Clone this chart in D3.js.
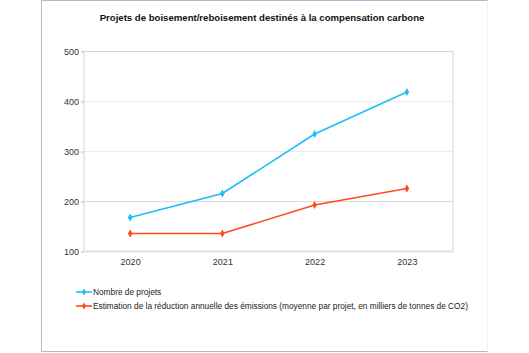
<!DOCTYPE html>
<html>
<head>
<meta charset="utf-8">
<script src="https://cdn.jsdelivr.net/npm/d3@7"></script>
<style>
  body { margin: 0; background: #fff; font-family: "Liberation Sans", Arial, sans-serif; }
</style>
</head>
<body>
<script>
// chart data
const years = ["2020", "2021", "2022", "2023"];
const projets = [168, 216, 335, 419];
const reduction = [136, 136, 193, 226];
const yTicks = [100, 200, 300, 400, 500];
const seriesNames = [
  "Nombre de projets",
  "Estimation de la réduction annuelle des émissions (moyenne par projet, en milliers de tonnes de CO2)"
];
const colors = ["#1cbdf9", "#ff4a1c"];

const W = 529, H = 353;
const svg = d3.select("body").append("svg")
  .attr("width", W)
  .attr("height", H);

// outer frame
svg.append("rect")
  .attr("x", 41.5).attr("y", 0.5)
  .attr("width", 446).attr("height", 351)
  .attr("fill", "#fff")
  .attr("stroke", "#eef2f7");
svg.append("path")
  .attr("d", "M41.5,352 V0.5 H487.5 M41.5,351.5 H487.5")
  .attr("fill", "none")
  .attr("stroke", "#a9bdd2");

svg.append("text")
  .attr("x", 262).attr("y", 21)
  .attr("text-anchor", "middle")
  .attr("font-size", 9.6)
  .attr("font-weight", "bold")
  .attr("fill", "#111")
  .text("Projets de boisement/reboisement destinés à la compensation carbone");

const margin = { top: 51.5, left: 84, right: 453, bottom: 251.5 };

const x = d3.scalePoint()
  .domain(years)
  .range([margin.left, margin.right])
  .padding(0.5);

const y = d3.scaleLinear()
  .domain([100, 500])
  .range([margin.bottom, margin.top]);

// grid lines
svg.append("g")
  .selectAll("line")
  .data(yTicks)
  .join("line")
  .attr("x1", margin.left).attr("x2", margin.right)
  .attr("y1", d => y(d)).attr("y2", d => y(d))
  .attr("stroke", d => d === 200 ? "#dcdcdc" : "#ececec")
  .attr("stroke-width", 1);

// plot border
svg.append("rect")
  .attr("x", margin.left).attr("y", margin.top)
  .attr("width", margin.right - margin.left)
  .attr("height", margin.bottom - margin.top)
  .attr("fill", "none")
  .attr("stroke", "#d6d6d6");

svg.append("line")
  .attr("x1", margin.left).attr("x2", margin.right)
  .attr("y1", margin.bottom).attr("y2", margin.bottom)
  .attr("stroke", "#e2e2e2")
  .attr("stroke-width", 2);

// axes
const yAxis = svg.append("g")
  .attr("transform", `translate(${margin.left},0)`)
  .call(d3.axisLeft(y).tickValues(yTicks).tickSize(3).tickPadding(2));
yAxis.select(".domain").remove();
yAxis.selectAll(".tick line").attr("stroke", "#bbb");
yAxis.selectAll("text").attr("font-size", 9).attr("fill", "#333")
  .attr("font-family", "Liberation Sans, Arial, sans-serif");

const xAxis = svg.append("g")
  .attr("transform", `translate(0,${margin.bottom})`)
  .call(d3.axisBottom(x).tickSize(0).tickPadding(7));
xAxis.select(".domain").remove();
xAxis.selectAll("text").attr("font-size", 9).attr("fill", "#333")
  .attr("font-family", "Liberation Sans, Arial, sans-serif");

// lines
const line = d3.line()
  .x((d, i) => x(years[i]))
  .y(d => y(d));

[projets, reduction].forEach((vals, k) => {
  svg.append("path")
    .datum(vals)
    .attr("d", line)
    .attr("fill", "none")
    .attr("stroke", colors[k])
    .attr("stroke-width", 1.6);

  svg.append("g")
    .selectAll("path")
    .data(vals)
    .join("path")
    .attr("transform", (d, i) => `translate(${x(years[i])},${y(d)})`)
    .attr("d", d3.symbol(d3.symbolDiamond, 18))
    .attr("fill", colors[k]);
});

// legend
const legend = svg.append("g");
seriesNames.forEach((name, k) => {
  const ly = 292 + k * 14;
  legend.append("line")
    .attr("x1", 76).attr("x2", 92)
    .attr("y1", ly).attr("y2", ly)
    .attr("stroke", colors[k])
    .attr("stroke-width", 1.6);
  legend.append("path")
    .attr("transform", `translate(84,${ly})`)
    .attr("d", d3.symbol(d3.symbolDiamond, 14))
    .attr("fill", colors[k]);
  legend.append("text")
    .attr("x", 93).attr("y", ly + 3)
    .attr("font-size", 8.3)
    .attr("fill", "#222")
    .text(name);
});
</script>
</body>
</html>
